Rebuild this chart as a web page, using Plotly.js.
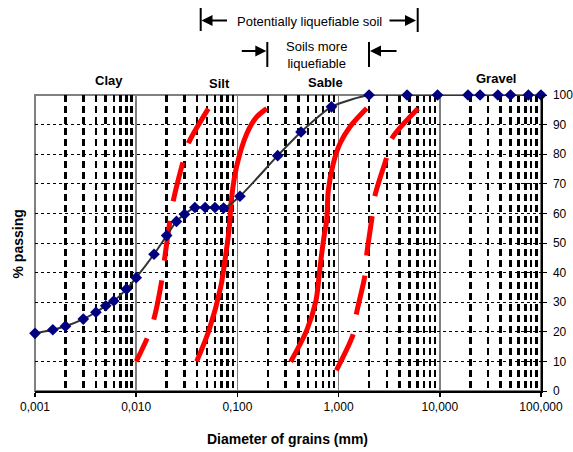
<!DOCTYPE html>
<html>
<head>
<meta charset="utf-8">
<script src="https://cdn.plot.ly/plotly-3.0.1.min.js"></script>
<style>html,body{margin:0;padding:0;background:#fff;}#chart{width:573px;height:452px;}</style>
</head>
<body>
<div id="chart"></div>
<script>
// Grain-size distribution (sieve curve)
const grainSize = [0.001, 0.0015, 0.002, 0.003, 0.004, 0.005, 0.006, 0.008, 0.01, 0.015, 0.02, 0.025, 0.03, 0.038, 0.048, 0.06, 0.073, 0.106, 0.25, 0.425, 0.85, 2, 4.75, 9.5, 19, 25, 37.5, 50, 75, 100];
const passing   = [19.5, 20.7, 21.9, 24.3, 26.6, 28.8, 30.4, 34.4, 38.3, 46.2, 52.5, 57.3, 59.7, 62, 62, 62, 61.8, 65.8, 79.5, 87.5, 96, 100, 100, 100, 100, 100, 100, 100, 100, 100];

// Boundary curves (red) – drawn top to bottom
const bound1X = [0.0516, 0.0327, 0.029, 0.0233, 0.0216, 0.019, 0.0179, 0.015, 0.0129, 0.01];
const bound1Y = [95.4, 83.6, 77.4, 64.4, 57.7, 44.2, 37.4, 24.5, 18, 10];
const bound2X = [0.195, 0.155, 0.124, 0.098, 0.0878, 0.083, 0.077, 0.0684, 0.0524, 0.0396];
const bound2Y = [95.4, 92.6, 87, 75.7, 65.5, 55, 46.4, 35.1, 20.5, 10];
const bound3X = [1.897, 1.297, 1.032, 0.887, 0.791, 0.763, 0.717, 0.681, 0.645, 0.598, 0.484, 0.336];
const bound3Y = [95.5, 89.3, 83.6, 76.9, 67.8, 57.7, 52.1, 46.4, 39.7, 30.6, 20.5, 9.9];
const bound4X = [6.1, 3.35, 2.99, 2.29, 2.12, 1.9, 1.82, 1.5, 1.4, 0.95];
const bound4Y = [95.4, 85.2, 79, 66.1, 57.7, 46.4, 39, 26.1, 19.4, 7];

// Axis ticks
const xTickVals = [0.001, 0.01, 0.1, 1, 10, 100];
const xTickText = ['0,001', '0,010', '0,100', '1,000', '10,000', '100,000'];
const yTickVals = [0, 10, 20, 30, 40, 50, 60, 70, 80, 90, 100];

// Soil classes
const classNames = ['Clay', 'Silt', 'Sable', 'Gravel'];

const minorVals = [];
xTickVals.slice(0, -1).forEach(d => { for (let k = 2; k <= 9; k++) minorVals.push(+(k * d).toPrecision(3)); });

const redLine = (x, y, dash) => ({
  x: x, y: y, type: 'scatter', mode: 'lines', hoverinfo: 'skip',
  line: {color: '#FF0000', width: 5, shape: 'spline', smoothing: 0.8, dash: dash}
});

const traces = [
  redLine(bound1X, bound1Y, '40px,20px'),
  redLine(bound2X, bound2Y, 'solid'),
  redLine(bound3X, bound3Y, 'solid'),
  redLine(bound4X, bound4Y, '40px,20px'),
  {
    x: grainSize, y: passing, type: 'scatter', mode: 'lines+markers', cliponaxis: false,
    line: {color: '#333333', width: 2, shape: 'spline', smoothing: 0.6},
    marker: {symbol: 'diamond', size: 9, color: '#000080'}
  }
];

const F = 'Arial, "Liberation Sans", sans-serif';
const px = v => (v - 35) / 506;
const py = v => (391 - v) / 296;

const classPos = [[109.3, 80], [219, 83.6], [325.8, 82.5], [495.8, 78.8]];
const annotations = classNames.map((t, i) => ({
  text: '<b>' + t + '</b>', xref: 'paper', yref: 'paper', x: px(classPos[i][0]), y: py(classPos[i][1]),
  xanchor: 'center', yanchor: 'middle', showarrow: false, font: {family: F, size: 13, color: '#000'}
}));

annotations.push(
  {text: 'Potentially liquefiable soil', xref: 'paper', yref: 'paper', x: px(309.7), y: py(21), xanchor: 'center', yanchor: 'middle', showarrow: false, font: {family: F, size: 13, color: '#000'}},
  {text: 'Soils more<br>liquefiable', xref: 'paper', yref: 'paper', x: px(316), y: py(55.5), xanchor: 'center', yanchor: 'middle', showarrow: false, font: {family: F, size: 13, color: '#000'}},
  {text: '', xref: 'paper', yref: 'paper', x: px(201.5), y: py(20.5), ax: 27, ay: 0, showarrow: true, arrowhead: 2, arrowsize: 1.1, arrowwidth: 2, arrowcolor: '#000'},
  {text: '', xref: 'paper', yref: 'paper', x: px(416), y: py(20.5), ax: -28, ay: 0, showarrow: true, arrowhead: 2, arrowsize: 1.1, arrowwidth: 2, arrowcolor: '#000'},
  {text: '', xref: 'paper', yref: 'paper', x: px(266.3), y: py(51), ax: -26, ay: 0, showarrow: true, arrowhead: 2, arrowsize: 1.1, arrowwidth: 2, arrowcolor: '#000'},
  {text: '', xref: 'paper', yref: 'paper', x: px(370), y: py(51), ax: 28, ay: 0, showarrow: true, arrowhead: 2, arrowsize: 1.1, arrowwidth: 2, arrowcolor: '#000'},
  {text: '<b>Diameter of grains (mm)</b>', xref: 'paper', yref: 'paper', x: px(287), y: py(439), xanchor: 'center', yanchor: 'middle', showarrow: false, font: {family: F, size: 14, color: '#000'}},
  {text: '<b>% passing</b>', xref: 'paper', yref: 'paper', x: px(17.5), y: py(244), xanchor: 'center', yanchor: 'middle', textangle: -90, showarrow: false, font: {family: F, size: 14, color: '#000'}}
);

const bar = (x, y0, y1) => ({type: 'line', xref: 'paper', yref: 'paper', x0: px(x), x1: px(x), y0: py(y0), y1: py(y1), line: {color: '#000', width: 2}});

const shapes = [
  {type: 'rect', xref: 'paper', yref: 'paper', x0: 0, x1: 1, y0: 0, y1: 1, layer: 'between', line: {color: '#808080', width: 2}},
  bar(200.7, 8, 31), bar(417.7, 8, 32),
  bar(267.3, 42, 67), bar(369, 42, 67)
];

const layout = {
  width: 573, height: 452,
  margin: {l: 35, r: 32, t: 95, b: 61},
  paper_bgcolor: '#fff', plot_bgcolor: '#fff',
  showlegend: false,
  font: {family: F, size: 12, color: '#000'},
  xaxis: {
    type: 'log', range: [-3, 2],
    tickvals: xTickVals, ticktext: xTickText,
    showgrid: true, gridcolor: '#808080', gridwidth: 1.5,
    showline: true, linecolor: '#000', linewidth: 1.5,
    ticks: 'outside', ticklen: 4, tickcolor: '#000', tickwidth: 1.5,
    tickfont: {family: F, size: 12, color: '#000'},
    zeroline: false,
    minor: {tickvals: minorVals, showgrid: true, gridcolor: '#000', gridwidth: 2.5, griddash: '7px,4px', ticks: ''}
  },
  yaxis: {
    range: [0, 100], tickvals: yTickVals, side: 'right',
    showgrid: true, gridcolor: '#000', gridwidth: 1, griddash: 'dot',
    showline: true, linecolor: '#000', linewidth: 1.5,
    ticks: 'outside', ticklen: 4, tickcolor: '#000', ticklabelstandoff: 4,
    tickfont: {family: F, size: 12, color: '#000'},
    zeroline: false
  },
  annotations: annotations,
  shapes: shapes
};

Plotly.newPlot('chart', traces, layout, {staticPlot: true, displayModeBar: false});
</script>
</body>
</html>
